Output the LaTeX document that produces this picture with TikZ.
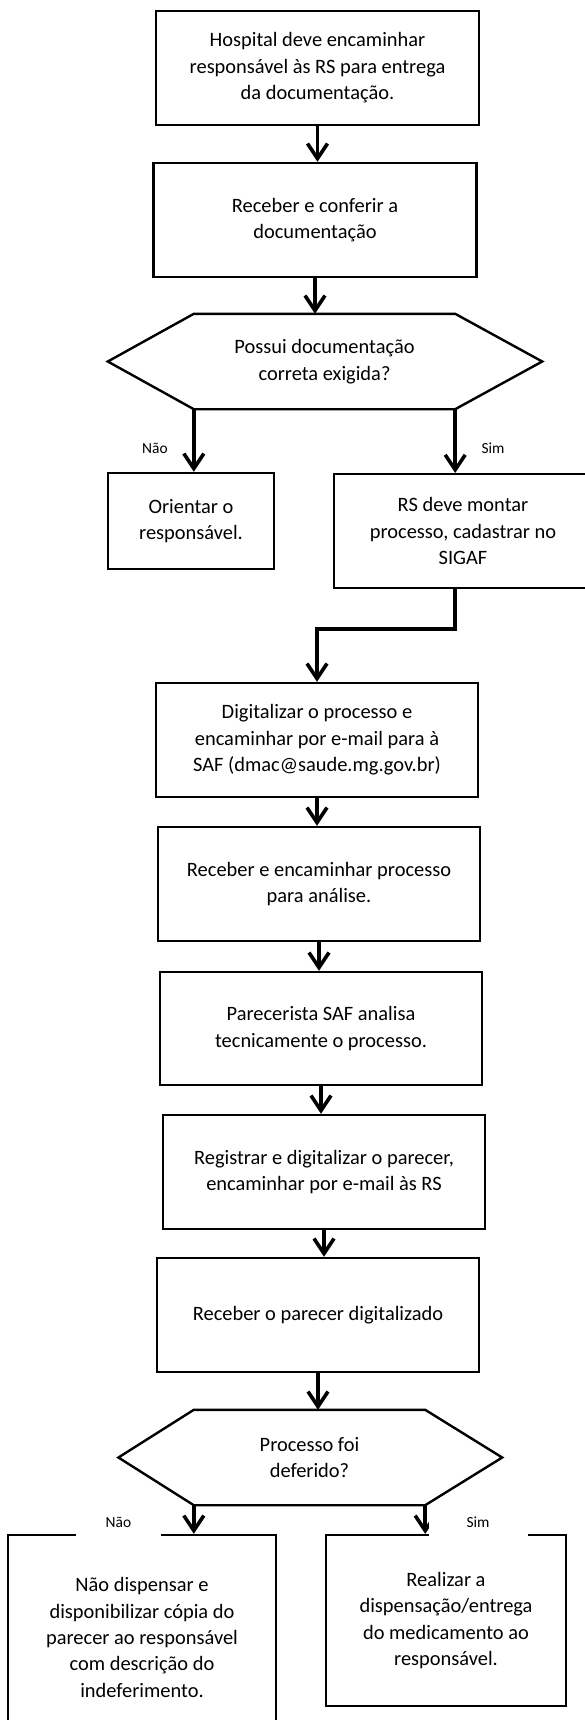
\documentclass[tikz,border=0pt]{standalone}
\usepackage{fontspec}
\setmainfont{Carlito}
\usetikzlibrary{arrows.meta}
\begin{document}
\begin{tikzpicture}[x=1bp,y=-1bp,
  box/.style={draw, line width=2.4bp, align=center, inner sep=0pt, font=\fontsize{20.5}{26.5}\selectfont},
  dectext/.style={align=center, inner sep=0pt, font=\fontsize{20.5}{26.5}\selectfont},
  hexline/.style={line width=2.4bp, line join=miter},
  arr/.style={line width=3.6bp, -{Straight Barb[length=15bp,width=20bp]}},
  lbl/.style={font=\fontsize{15.5}{18}\selectfont, inner sep=0pt}
]
\useasboundingbox (0,0) rectangle (585,1720);
\clip (0,0) rectangle (585,1720);

% boxes
\node[box, minimum width=323bp, minimum height=114bp] (b1) at (317.5,68) {Hospital deve encaminhar\\responsável às RS para entrega\\da documentação.};
\node[box, minimum width=323bp, minimum height=114bp] (b2) at (315,220) {Receber e conferir a\\documentação};

\node[dectext, minimum width=261bp, minimum height=95bp] (d1) at (324.5,361.5) {Possui documentação\\correta exigida?};
\draw[hexline] (d1.north west) -- (d1.north east) -- ([xshift=87bp]d1.east) -- (d1.south east) -- (d1.south west) -- ([xshift=-86bp]d1.west) -- cycle;

\node[box, minimum width=165.5bp, minimum height=96bp] (ori) at (191,521) {Orientar o\\responsável.};
\node[box, minimum width=258bp, minimum height=113.5bp] (rs) at (463,531) {RS deve montar\\processo, cadastrar no\\SIGAF};

\node[box, minimum width=322bp, minimum height=114bp] (dig) at (317,740) {Digitalizar o processo e\\encaminhar por e-mail para à\\SAF (dmac@saude.mg.gov.br)};
\node[box, minimum width=322bp, minimum height=114bp] (rec) at (319,884) {Receber e encaminhar processo\\para análise.};
\node[box, minimum width=322.5bp, minimum height=113bp] (par) at (321,1028.5) {Parecerista SAF analisa\\tecnicamente o processo.};
\node[box, minimum width=322bp, minimum height=114bp] (reg) at (324,1172) {Registrar e digitalizar o parecer,\\encaminhar por e-mail às RS};
\node[box, minimum width=322.5bp, minimum height=114bp] (rp) at (318,1315) {Receber o parecer digitalizado};

\node[dectext, minimum width=231bp, minimum height=95bp] (d2) at (309.5,1457.5) {Processo foi\\deferido?};
\draw[hexline] (d2.north west) -- (d2.north east) -- ([xshift=77bp]d2.east) -- (d2.south east) -- (d2.south west) -- ([xshift=-75.4bp]d2.west) -- cycle;

\node[box, minimum width=268bp, minimum height=205bp] (nao) at (142,1637.5) {Não dispensar e\\disponibilizar cópia do\\parecer ao responsável\\com descrição do\\indeferimento.};
\node[box, minimum width=240bp, minimum height=171bp] (sim) at (446,1620.5) {Realizar a\\dispensação/entrega\\do medicamento ao\\responsável.};

% connectors
\draw[arr] (b1.south) -- (b1.south |- b2.north);
\draw[arr] (b2.south) -- (b2.south |- d1.north);
\draw[arr] (d1.south west) -- (d1.south west |- ori.north);
\draw[arr] (d1.south east) -- (d1.south east |- rs.north);
\draw[arr] (d1.south east |- rs.south) -- ++(0,40) -| (dig.north);
\draw[arr] (dig.south) -- (dig.south |- rec.north);
\draw[arr] (rec.south) -- (rec.south |- par.north);
\draw[arr] (par.south) -- (par.south |- reg.north);
\draw[arr] (reg.south) -- (reg.south |- rp.north);
\draw[arr] (rp.south) -- (rp.south |- d2.north);
\draw[arr] (d2.south west) -- (d2.south west |- nao.north);
\draw[arr] (d2.south east) -- (d2.south east |- sim.north);

% labels
\node[lbl] (l1) at (155,448) {Não};
\node[lbl] (l2) at (493,448) {Sim};
\node[lbl, fill=white, minimum width=85bp, minimum height=31bp] (l3) at (118.5,1522) {Não};
\node[lbl, fill=white, minimum width=99bp, minimum height=31bp] (l4) at (478,1522) {Sim};
\end{tikzpicture}
\end{document}
